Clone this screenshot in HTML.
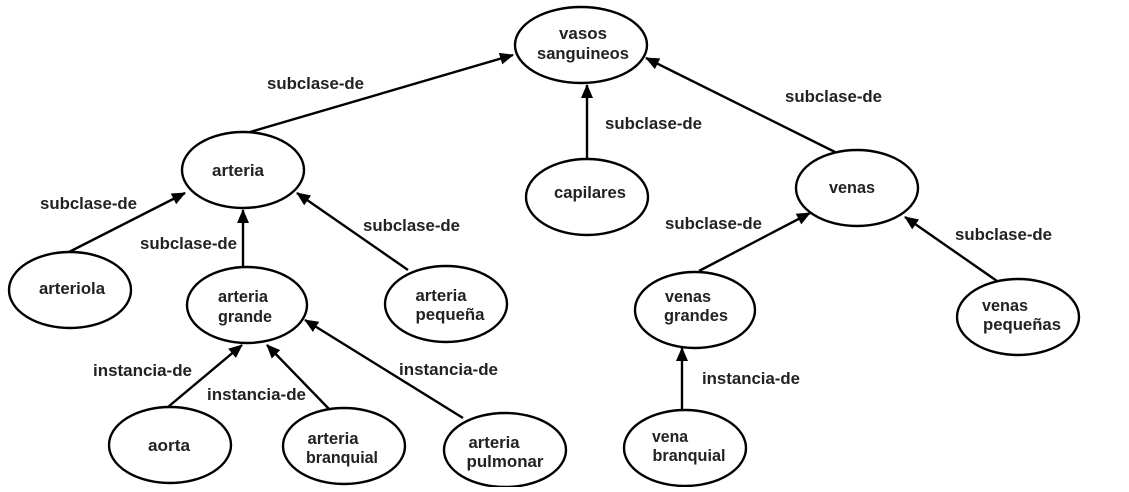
<!DOCTYPE html>
<html><head><meta charset="utf-8"><style>
html,body{margin:0;padding:0;background:#fff;}
svg text{font-family:"Liberation Sans",Arial,sans-serif;font-size:17px;font-weight:bold;fill:#222;}
</style></head><body>
<svg width="1129" height="487" viewBox="0 0 1129 487" xmlns="http://www.w3.org/2000/svg">
<defs><marker id="a" markerWidth="14" markerHeight="12" refX="13" refY="6" orient="auto" markerUnits="userSpaceOnUse"><path d="M0,0 L14,6 L0,12 z" fill="#000"/></marker></defs>
<g stroke="#000" stroke-width="2.4" fill="none" marker-end="url(#a)">
<line x1="250" y1="132" x2="513" y2="55"/>
<line x1="587" y1="158" x2="587" y2="85"/>
<line x1="835" y1="152" x2="646" y2="58"/>
<line x1="69" y1="252" x2="185" y2="193"/>
<line x1="243" y1="267" x2="243" y2="210"/>
<line x1="408" y1="270" x2="297" y2="193"/>
<line x1="168" y1="407" x2="242" y2="345"/>
<line x1="330" y1="410" x2="267" y2="345"/>
<line x1="463" y1="418" x2="305" y2="320"/>
<line x1="699" y1="271" x2="810" y2="213"/>
<line x1="997" y1="281" x2="905" y2="217"/>
<line x1="682" y1="410" x2="682" y2="348"/>
</g>
<g stroke="#000" stroke-width="2.4" fill="#fff">
<ellipse cx="581" cy="45" rx="66" ry="38"/>
<ellipse cx="243" cy="170" rx="61" ry="38"/>
<ellipse cx="587" cy="197" rx="61" ry="38"/>
<ellipse cx="857" cy="188" rx="61" ry="38"/>
<ellipse cx="70" cy="290" rx="61" ry="38"/>
<ellipse cx="247" cy="305" rx="60" ry="38"/>
<ellipse cx="446" cy="304" rx="61" ry="38"/>
<ellipse cx="695" cy="310" rx="60" ry="38"/>
<ellipse cx="1018" cy="317" rx="61" ry="38"/>
<ellipse cx="170" cy="445" rx="61" ry="38"/>
<ellipse cx="344" cy="446" rx="61" ry="38"/>
<ellipse cx="505" cy="450" rx="61" ry="37"/>
<ellipse cx="685" cy="448" rx="61" ry="38"/>
</g>
<g text-anchor="middle">
<text x="583" y="39" textLength="48" lengthAdjust="spacingAndGlyphs">vasos</text><text x="583" y="59" textLength="92" lengthAdjust="spacingAndGlyphs">sanguineos</text>
<text x="238" y="176" textLength="52" lengthAdjust="spacingAndGlyphs">arteria</text>
<text x="590" y="198" textLength="72" lengthAdjust="spacingAndGlyphs">capilares</text>
<text x="852" y="193" textLength="46" lengthAdjust="spacingAndGlyphs">venas</text>
<text x="72" y="294" textLength="66" lengthAdjust="spacingAndGlyphs">arteriola</text>
<text x="243" y="302" textLength="50" lengthAdjust="spacingAndGlyphs">arteria</text><text x="245" y="322" textLength="54" lengthAdjust="spacingAndGlyphs">grande</text>
<text x="441" y="301" textLength="51" lengthAdjust="spacingAndGlyphs">arteria</text><text x="450" y="320" textLength="69" lengthAdjust="spacingAndGlyphs">pequeña</text>
<text x="688" y="302" textLength="46" lengthAdjust="spacingAndGlyphs">venas</text><text x="696" y="321" textLength="64" lengthAdjust="spacingAndGlyphs">grandes</text>
<text x="1005" y="311" textLength="46" lengthAdjust="spacingAndGlyphs">venas</text><text x="1022" y="330" textLength="78" lengthAdjust="spacingAndGlyphs">pequeñas</text>
<text x="169" y="451" textLength="42" lengthAdjust="spacingAndGlyphs">aorta</text>
<text x="333" y="444" textLength="51" lengthAdjust="spacingAndGlyphs">arteria</text><text x="342" y="463" textLength="72" lengthAdjust="spacingAndGlyphs">branquial</text>
<text x="494" y="448" textLength="51" lengthAdjust="spacingAndGlyphs">arteria</text><text x="505" y="467" textLength="77" lengthAdjust="spacingAndGlyphs">pulmonar</text>
<text x="670" y="442" textLength="36" lengthAdjust="spacingAndGlyphs">vena</text><text x="689" y="461" textLength="73" lengthAdjust="spacingAndGlyphs">branquial</text>
</g>
<g>
<text x="267" y="89" textLength="97" lengthAdjust="spacingAndGlyphs">subclase-de</text>
<text x="40" y="209" textLength="97" lengthAdjust="spacingAndGlyphs">subclase-de</text>
<text x="140" y="249" textLength="97" lengthAdjust="spacingAndGlyphs">subclase-de</text>
<text x="363" y="231" textLength="97" lengthAdjust="spacingAndGlyphs">subclase-de</text>
<text x="93" y="376" textLength="99" lengthAdjust="spacingAndGlyphs">instancia-de</text>
<text x="207" y="400" textLength="99" lengthAdjust="spacingAndGlyphs">instancia-de</text>
<text x="399" y="375" textLength="99" lengthAdjust="spacingAndGlyphs">instancia-de</text>
<text x="605" y="129" textLength="97" lengthAdjust="spacingAndGlyphs">subclase-de</text>
<text x="785" y="102" textLength="97" lengthAdjust="spacingAndGlyphs">subclase-de</text>
<text x="665" y="229" textLength="97" lengthAdjust="spacingAndGlyphs">subclase-de</text>
<text x="955" y="240" textLength="97" lengthAdjust="spacingAndGlyphs">subclase-de</text>
<text x="702" y="384" textLength="98" lengthAdjust="spacingAndGlyphs">instancia-de</text>
</g>
</svg>
</body></html>
